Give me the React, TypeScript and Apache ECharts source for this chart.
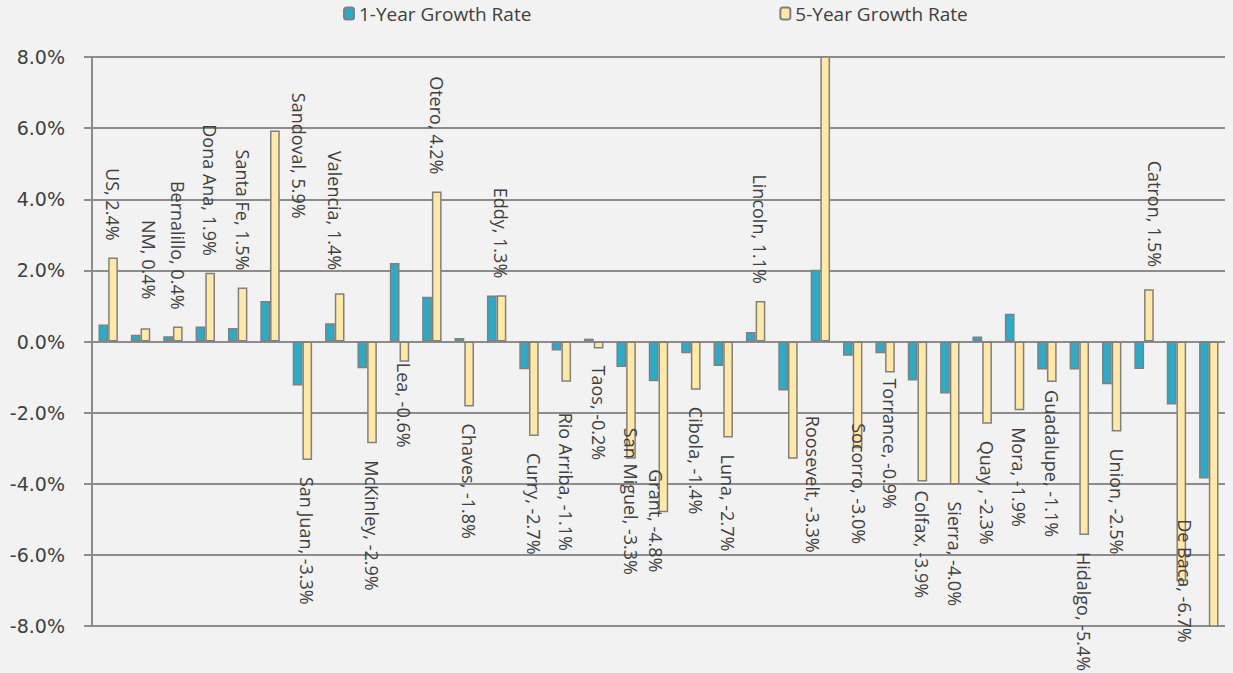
import React, { useEffect, useRef } from "react";
import * as echarts from "echarts";

const categories = [
  "US", "NM", "Bernalillo", "Dona Ana", "Santa Fe", "Sandoval", "San Juan", "Valencia",
  "McKinley", "Lea", "Otero", "Chaves", "Eddy", "Curry", "Rio Arriba", "Taos",
  "San Miguel", "Grant", "Cibola", "Luna", "Lincoln", "Roosevelt", "Los Alamos", "Socorro",
  "Torrance", "Colfax", "Sierra", "Quay ", "Mora", "Guadalupe", "Hidalgo", "Union",
  "Catron", "De Baca", "Harding",
];

const oneYear = [
  0.48, 0.19, 0.15, 0.42, 0.38, 1.14, -1.24, 0.51,
  -0.75, 2.21, 1.26, 0.1, 1.29, -0.78, -0.25, 0.08,
  -0.72, -1.12, -0.33, -0.69, 0.27, -1.38, 2.02, -0.4,
  -0.33, -1.1, -1.46, 0.14, 0.78, -0.79, -0.79, -1.2,
  -0.77, -1.77, -3.85,
];

const fiveYear = [
  2.36, 0.37, 0.42, 1.93, 1.52, 5.93, -3.33, 1.36,
  -2.86, -0.57, 4.22, -1.83, 1.3, -2.66, -1.13, -0.2,
  -3.3, -4.8, -1.36, -2.7, 1.14, -3.3, 8.6, -3.0,
  -0.87, -3.94, -4.02, -2.31, -1.93, -1.14, -5.44, -2.53,
  1.47, -6.74, -8.6,
];

const seriesNames = ["1-Year Growth Rate", "5-Year Growth Rate"];
const yTicks = [-8, -6, -4, -2, 0, 2, 4, 6, 8];

// labels hidden in the original (their bars run past the axis range)
const hiddenLabels = ["Los Alamos", "Harding"];

// manual label nudges [dx, dy] in screen px, as placed in the original
const labelNudges: Record<string, [number, number]> = {
  NM: [4, -12],
  Sandoval: [24, 105],
  Valencia: [-5, -6],
  Lea: [0, -16],
  "Rio Arriba": [0, 14],
  "San Miguel": [0, -48],
  Grant: [-7, -60],
  Roosevelt: [20, -60],
  Socorro: [1, -42],
  Torrance: [0, -11],
  Colfax: [0, -8],
  Guadalupe: [0, -9],
  Catron: [6, -5],
  "De Baca": [4, -79],
};

export default function App() {
  const ref = useRef<HTMLDivElement>(null);
  useEffect(() => {
    if (!ref.current) return;
    const chart = echarts.init(ref.current, undefined, { renderer: "svg" });
    const border = "#808080";
    const fiveData = fiveYear.map((v, i) => {
      const name = categories[i];
      const pos = v >= 0;
      const n = labelNudges[name] || [0, 0];
      return {
        value: v,
        label: {
          show: !hiddenLabels.includes(name),
          position: pos ? "top" : "bottom",
          rotate: -90,
          distance: 17,
          align: pos ? "right" : "left",
          verticalAlign: "middle",
          // offset is applied in the label's rotated frame
          offset: [n[1], -n[0]],
          formatter: `${name}, ${v.toFixed(1)}%`,
          color: "#404040",
          fontSize: 18,
          fontFamily: "Open Sans",
        },
      };
    });
    chart.setOption({
      animation: false,
      backgroundColor: "#f2f2f2",
      legend: {
        top: -1,
        left: 338,
        itemGap: 248,
        itemWidth: 10,
        itemHeight: 12,
        textStyle: { fontSize: 19, color: "#404040", fontFamily: "Open Sans" },
        data: seriesNames,
      },
      grid: { left: 92, right: 8, top: 57, bottom: 47, containLabel: false },
      xAxis: {
        type: "category",
        data: categories,
        axisLine: { show: false },
        axisTick: { show: false },
        axisLabel: { show: false },
      },
      yAxis: {
        type: "value",
        min: yTicks[0],
        max: yTicks[yTicks.length - 1],
        interval: 2,
        axisLine: { show: true, lineStyle: { color: "#8c8c8c", width: 2 } },
        axisTick: { show: true, length: 8, lineStyle: { color: "#8c8c8c", width: 2 } },
        axisLabel: {
          margin: 27,
          formatter: (v: number) => `${v.toFixed(1)}%`,
          fontSize: 19,
          color: "#404040",
          fontFamily: "DejaVu Sans",
        },
        splitLine: { show: true, lineStyle: { color: "#8c8c8c", width: 2 } },
      },
      series: [
        {
          name: seriesNames[0],
          type: "bar",
          data: oneYear,
          barGap: "0%",
          barCategoryGap: "40%",
          clip: true,
          itemStyle: { color: "#2aacc8", borderColor: border, borderWidth: 1.5 },
        },
        {
          name: seriesNames[1],
          type: "bar",
          data: fiveData,
          barGap: "0%",
          barCategoryGap: "40%",
          clip: true,
          itemStyle: { color: "#ffe9a5", borderColor: border, borderWidth: 1.5 },
        },
      ],
    });
    return () => chart.dispose();
  }, []);
  return (
    <div
      ref={ref}
      style={{ position: "fixed", left: 0, top: 0, width: 1233, height: 673 }}
    />
  );
}
